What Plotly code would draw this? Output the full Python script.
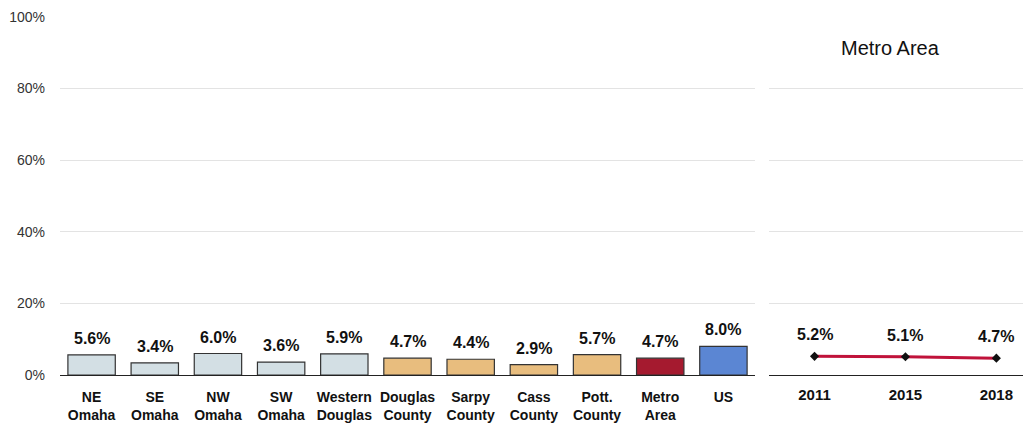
import plotly.graph_objects as go

categories = ["NE<br>Omaha", "SE<br>Omaha", "NW<br>Omaha", "SW<br>Omaha", "Western<br>Douglas",
              "Douglas<br>County", "Sarpy<br>County", "Cass<br>County", "Pott.<br>County",
              "Metro<br>Area", "US"]
values = [5.6, 3.4, 6.0, 3.6, 5.9, 4.7, 4.4, 2.9, 5.7, 4.7, 8.0]
bar_colors = ["#D3DFE4"] * 5 + ["#E8BD7E"] * 4 + ["#A51A2F", "#5B86D3"]

years = ["2011", "2015", "2018"]
metro_values = [5.2, 5.1, 4.7]

y_ticks = [0, 20, 40, 60, 80, 100]
y_tick_labels = ["0%", "20%", "40%", "60%", "80%", "100%"]

FONT = "Liberation Sans Narrow, Arial Narrow, Liberation Sans, Arial, sans-serif"

fig = go.Figure()
fig.add_trace(go.Bar(
    x=categories, y=values, marker=dict(color=bar_colors, line=dict(color="#333333", width=1.2)),
    width=0.75, xaxis="x", yaxis="y", showlegend=False, hoverinfo="skip"))
fig.add_trace(go.Scatter(
    x=years, y=metro_values, mode="lines+markers",
    line=dict(color="#C0123A", width=3),
    marker=dict(symbol="diamond", size=7, color="#111111"),
    xaxis="x2", yaxis="y2", showlegend=False, hoverinfo="skip"))

annotations = []
for c, v in zip(categories, values):
    annotations.append(dict(x=c, y=v, xref="x", yref="y", text=f"<b>{v:.1f}%</b>",
                            showarrow=False, yanchor="bottom", yshift=6,
                            font=dict(size=16, color="#111111", family=FONT)))
for i, (c, v) in enumerate(zip(years, metro_values)):
    annotations.append(dict(x=i, y=v, xref="x2", yref="y2", text=f"<b>{v:.1f}%</b>",
                            showarrow=False, yanchor="bottom", yshift=11,
                            font=dict(size=16, color="#111111", family=FONT)))
annotations.append(dict(x=0.5, y=1, xref="x2 domain", yref="y2 domain", text="Metro Area",
                        showarrow=False, yanchor="middle", yshift=-32, xshift=-9,
                        font=dict(size=20, color="#111111", family=FONT)))

grid = "#E3E3E3"
fig.update_layout(
    width=1023, height=420,
    margin=dict(l=52, r=1, t=8, b=53),
    paper_bgcolor="white", plot_bgcolor="white",
    font=dict(family=FONT, color="#222222"),
    bargap=0.25,
    xaxis=dict(domain=[0, 0.7165], type="category", automargin=False,
               showline=True, linecolor="#222222", linewidth=1.2,
               tickfont=dict(size=14, color="#111111", family=FONT),
               tickmode="array", tickvals=categories,
               ticktext=[f"<b>{c}</b>" for c in categories], ticks="", ticklabelstandoff=9,
               range=[-0.5, 10.5]),
    yaxis=dict(range=[0, 100.2], tickvals=y_ticks, ticktext=y_tick_labels, showgrid=True,
               automargin=False, gridcolor=grid, gridwidth=1, zeroline=False,
               tickfont=dict(size=14, color="#333333", family=FONT), ticks="", ticklabelstandoff=14),
    xaxis2=dict(domain=[0.731, 1], anchor="y2", type="category", automargin=False,
                showline=True, linecolor="#222222", linewidth=1.2,
                tickfont=dict(size=15, color="#111111", family=FONT),
                tickmode="array", tickvals=years, ticktext=[f"<b>{y}</b>" for y in years],
                ticks="", ticklabelstandoff=6, range=[-0.5, 2.37]),
    yaxis2=dict(anchor="x2", range=[0, 100.2], tickvals=y_ticks, showticklabels=False,
                automargin=False, showgrid=True, gridcolor=grid, gridwidth=1, zeroline=False),
    annotations=annotations,
)

fig.write_html("out.html")
